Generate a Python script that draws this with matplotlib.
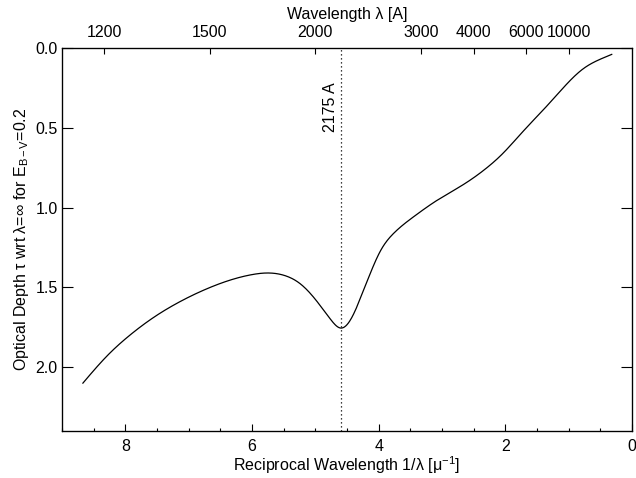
import matplotlib
matplotlib.use("Agg")
import matplotlib.pyplot as plt
import numpy as np

plt.rcParams['font.family'] = ['Liberation Sans', 'DejaVu Sans']
plt.rcParams['mathtext.fontset'] = 'custom'
plt.rcParams['mathtext.rm'] = 'Liberation Sans'
plt.rcParams['mathtext.it'] = 'Liberation Sans'

# Data
inv_wavelength = [8.67, 8.29, 7.93, 7.56, 7.14, 6.72, 6.35, 6.00, 5.78, 5.49, 5.23,
                  4.97, 4.76, 4.60, 4.44, 4.28, 4.13, 3.97, 3.76, 3.44, 3.08, 2.66,
                  2.29, 2.05, 1.76, 1.55, 1.29, 0.98, 0.77, 0.50, 0.32]
optical_depth = [2.10, 1.93, 1.80, 1.69, 1.59, 1.51, 1.455, 1.42, 1.41, 1.425, 1.48,
                 1.59, 1.70, 1.755, 1.70, 1.56, 1.41, 1.27, 1.16, 1.055, 0.955, 0.855,
                 0.75, 0.665, 0.54, 0.45, 0.34, 0.205, 0.13, 0.07, 0.04]
top_wavelengths = [1200, 1500, 2000, 3000, 4000, 6000, 10000]
bump_wavelength = 2175


def natural_spline(xk, yk, xq):
    xk = np.asarray(xk, float)
    yk = np.asarray(yk, float)
    n = len(xk)
    h = np.diff(xk)
    A = np.zeros((n, n))
    r = np.zeros(n)
    A[0, 0] = 1.0
    A[-1, -1] = 1.0
    for i in range(1, n - 1):
        A[i, i - 1] = h[i - 1]
        A[i, i] = 2 * (h[i - 1] + h[i])
        A[i, i + 1] = h[i]
        r[i] = 6 * ((yk[i + 1] - yk[i]) / h[i] - (yk[i] - yk[i - 1]) / h[i - 1])
    M = np.linalg.solve(A, r)
    idx = np.clip(np.searchsorted(xk, xq) - 1, 0, n - 2)
    x0, x1 = xk[idx], xk[idx + 1]
    hh = h[idx]
    a = (x1 - xq) / hh
    b = (xq - x0) / hh
    return (a * yk[idx] + b * yk[idx + 1]
            + ((a**3 - a) * M[idx] + (b**3 - b) * M[idx + 1]) * hh**2 / 6)


fig = plt.figure(figsize=(6.36, 4.78), dpi=100)
ax = fig.add_axes([62/636, 1 - 431/478, 570/636, 383/478])

x = np.array(inv_wavelength)
y = np.array(optical_depth)
order = np.argsort(x)
xs, ys = x[order], y[order]
xf = np.linspace(xs[0], xs[-1], 800)
yf = natural_spline(xs, ys, xf)
ax.plot(xf, yf, color='black', lw=0.9)

xb = 1e4 / bump_wavelength
ax.axvline(xb, color='black', lw=0.9, ls=(0, (1, 2.2)))
ax.text(xb + 0.16, 0.37, f"{bump_wavelength} A", rotation=90, ha='center', va='center',
        fontsize=11.5)

ax.set_xlim(9, 0)
ax.set_ylim(2.4, 0)
ax.set_xticks([8, 6, 4, 2, 0])
ax.set_xticklabels(['8', '6', '4', '2', '0'])
ax.set_xticks(np.arange(0, 9.01, 0.5), minor=True)
ax.set_yticks([0.0, 0.5, 1.0, 1.5, 2.0])
ax.set_yticklabels(['0.0', '0.5', '1.0', '1.5', '2.0'])
ax.set_yticks(np.arange(0, 2.401, 0.1), minor=True)

ax.tick_params(axis='x', which='major', direction='in', length=5, width=0.8,
               labelsize=11.5, pad=6, top=False)
ax.tick_params(axis='x', which='minor', direction='in', length=2.5, width=0.8, top=False)
ax.tick_params(axis='y', which='major', direction='in', length=8, width=0.8,
               labelsize=11.5, right=True, pad=3)
ax.tick_params(axis='y', which='minor', direction='in', length=4.3, width=0.8, right=True)
for s in ax.spines.values():
    s.set_linewidth(0.9)

ax.set_xlabel(r"Reciprocal Wavelength 1/λ [μ$^{\mathregular{-1}}$]", fontsize=11.5, labelpad=0)
ax.set_ylabel(r"Optical Depth τ wrt λ=∞ for E$_{\mathregular{B-V}}$=0.2", fontsize=11.5, labelpad=3)

ax2 = ax.twiny()
ax2.set_xlim(ax.get_xlim())
ax2.set_xticks([1e4 / w for w in top_wavelengths])
ax2.set_xticklabels([str(w) for w in top_wavelengths])
ax2.minorticks_off()
ax2.tick_params(axis='x', direction='in', length=4.3, width=0.8, labelsize=11.5, pad=6)
ax2.set_xlabel("Wavelength λ [A]", fontsize=11.5, labelpad=4)

fig.savefig("out.png", dpi=100)
